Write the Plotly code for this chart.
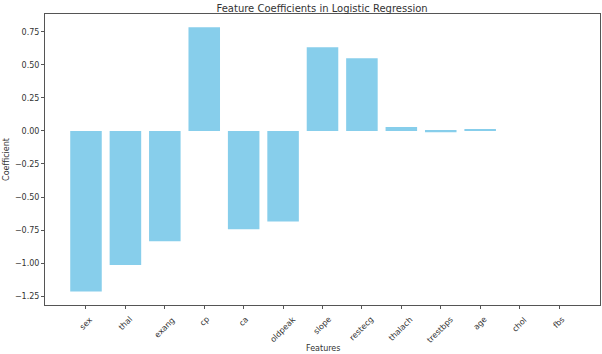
import plotly.graph_objects as go

features = ["sex", "thal", "exang", "cp", "ca", "oldpeak", "slope", "restecg",
            "thalach", "trestbps", "age", "chol", "fbs"]
coefficients = [-1.215, -1.015, -0.835, 0.785, -0.745, -0.685, 0.635, 0.550,
                0.030, -0.010, 0.010, 0.000, 0.000]
ytick_vals = [-1.25, -1.00, -0.75, -0.50, -0.25, 0.00, 0.25, 0.50, 0.75]
ytick_text = ["\u22121.25", "\u22121.00", "\u22120.75", "\u22120.50", "\u22120.25",
              "0.00", "0.25", "0.50", "0.75"]

font_family = "DejaVu Sans"
axis_color = "#555555"
text_color = "#333333"

fig = go.Figure()
fig.add_trace(go.Bar(
    x=list(range(len(features))),
    y=coefficients,
    width=0.8,
    marker=dict(color="#87CEEB", line=dict(width=0)),
))

annotations = []
for i, name in enumerate(features):
    annotations.append(dict(
        x=i, y=-0.025, xref="x", yref="paper", text=name, showarrow=False,
        textangle=-45, xanchor="center", yanchor="top",
        font=dict(family=font_family, size=8, color=text_color),
    ))
annotations.append(dict(
    x=0.5, y=-0.148, xref="paper", yref="paper", text="Features", showarrow=False,
    xanchor="center", yanchor="middle",
    font=dict(family=font_family, size=8, color=text_color),
))

fig.update_layout(
    width=602, height=354,
    margin=dict(l=45, r=2, t=14, b=49),
    paper_bgcolor="white", plot_bgcolor="white",
    showlegend=False,
    font=dict(family=font_family, size=8, color=text_color),
    title=dict(text="Feature Coefficients in Logistic Regression",
               x=0.535, xanchor="center", y=0.985, yanchor="top",
               font=dict(family=font_family, size=10, color=text_color)),
    annotations=annotations,
    xaxis=dict(
        range=[-1.04, 13.04], tickmode="array",
        tickvals=list(range(len(features))), showticklabels=False,
        ticks="outside", ticklen=3, tickcolor=axis_color,
        showline=True, linecolor=axis_color, linewidth=1, mirror=True,
        showgrid=False, zeroline=False,
    ),
    yaxis=dict(
        range=[-1.318, 0.886], tickmode="array",
        tickvals=ytick_vals, ticktext=ytick_text,
        ticks="outside", ticklen=3, tickcolor=axis_color,
        showline=True, linecolor=axis_color, linewidth=1, mirror=True,
        showgrid=False, zeroline=False,
        tickfont=dict(family=font_family, size=8, color=text_color),
        title=dict(text="Coefficient", standoff=4,
                   font=dict(family=font_family, size=8, color=text_color)),
    ),
)

fig.write_html("out.html")
